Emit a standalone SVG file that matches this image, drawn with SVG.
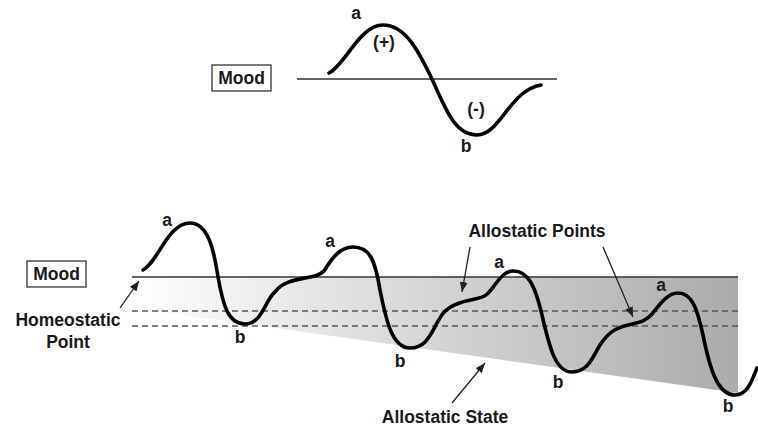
<svg xmlns="http://www.w3.org/2000/svg" width="758" height="431" viewBox="0 0 758 431">
  <style>
    .lbl { font-family: "Liberation Sans", Arial, sans-serif; font-weight: bold; font-size: 17.5px; fill: #1a1a1a; text-anchor: middle; }
    .box { fill: #fff; stroke: #333; stroke-width: 1.3; }
    .axis { stroke: #333; stroke-width: 1.4; fill: none; }
    .dash { stroke: #555; stroke-width: 1.6; stroke-dasharray: 6 4; fill: none; }
    .wave { stroke: #000; stroke-width: 3.6; fill: none; stroke-linecap: round; stroke-linejoin: round; }
    .arrow { stroke: #222; stroke-width: 1.3; fill: none; marker-end: url(#ah); }
  </style>
  <defs>
    <marker id="ah" markerUnits="userSpaceOnUse" markerWidth="12" markerHeight="10" refX="10" refY="4" orient="auto">
      <path d="M0,0 L10,4 L0,8 Z" fill="#222"/>
    </marker>
    <linearGradient id="shade" gradientUnits="userSpaceOnUse" x1="132" y1="0" x2="738" y2="0">
      <stop offset="0" stop-color="#ffffff"/>
      <stop offset="1" stop-color="#ababab"/>
    </linearGradient>
  </defs>
  <rect width="758" height="431" fill="#fff"/>

  <g id="top-panel">
    <g id="top-mood">
      <rect class="box" x="212" y="65" width="59" height="26"/>
      <text class="lbl" x="241.5" y="84">Mood</text>
    </g>
    <line class="axis" x1="297" y1="79" x2="557" y2="79"/>
    <path class="wave" d="M329,73 C345,65 360,25 383,25 C405,25 418,50 432,79 C446,110 455,135 477,135 C500,135 510,90 541,85"/>
    <text class="lbl" x="356" y="19">a</text>
    <text class="lbl" x="384" y="48">(+)</text>
    <text class="lbl" x="476" y="115">(-)</text>
    <text class="lbl" x="466" y="152">b</text>
  </g>

  <g id="bottom-panel">
    <polygon points="132,277 738,277 738,393 132,308" fill="url(#shade)"/>
    <line class="dash" x1="132" y1="311" x2="738" y2="311"/>
    <line class="dash" x1="132" y1="326" x2="738" y2="326"/>
    <line class="axis" x1="132" y1="277" x2="738" y2="277"/>
    <g id="bottom-mood">
      <rect class="box" x="27" y="261" width="59" height="26"/>
      <text class="lbl" x="56.5" y="280">Mood</text>
    </g>
    <path class="wave" d="M143,270 C158,262 168,223 190,223 C208,223 214,250 218,277 C223,305 228,324 245,324 C262,324 265,300 275,292 C282,282 295,280 305,278 C315,276 318,276 324,271 C332,258 340,247 353,247 C370,247 375,260 380,290 C386,320 392,348 410,348 C428,348 432,330 440,318 C446,306 460,302 475,299 C486,297 488,294 494,286 C500,278 505,271 513,271 C528,271 535,285 542,315 C550,350 556,372 572,372 C588,372 592,358 600,345 C608,333 615,328 628,325 C640,322 645,322 652,314 C660,304 668,293 678,293 C692,293 697,308 703,335 C710,370 718,395 735,395 C748,395 752,380 757,368"/>
    <text class="lbl" x="167" y="226">a</text>
    <text class="lbl" x="330" y="247">a</text>
    <text class="lbl" x="240" y="343">b</text>
    <text class="lbl" x="400" y="367">b</text>
    <text class="lbl" x="499" y="268">a</text>
    <text class="lbl" x="558" y="388">b</text>
    <text class="lbl" x="661" y="291">a</text>
    <text class="lbl" x="728" y="412">b</text>
  </g>

  <g id="homeostatic-label">
    <text class="lbl" x="68" y="326" font-size="18">Homeostatic</text>
    <text class="lbl" x="68" y="348" font-size="18">Point</text>
  </g>
  <g id="allostatic-points-label">
    <text class="lbl" x="537" y="237">Allostatic Points</text>
  </g>
  <g id="allostatic-state-label">
    <text class="lbl" x="445" y="423">Allostatic State</text>
  </g>

  <g id="connectors">
    <line class="arrow" x1="120" y1="308" x2="139" y2="281"/>
    <line class="arrow" x1="470" y1="247" x2="462" y2="292"/>
    <line class="arrow" x1="603" y1="247" x2="633" y2="317"/>
    <line class="arrow" x1="452" y1="403" x2="485" y2="363"/>
  </g>
</svg>
